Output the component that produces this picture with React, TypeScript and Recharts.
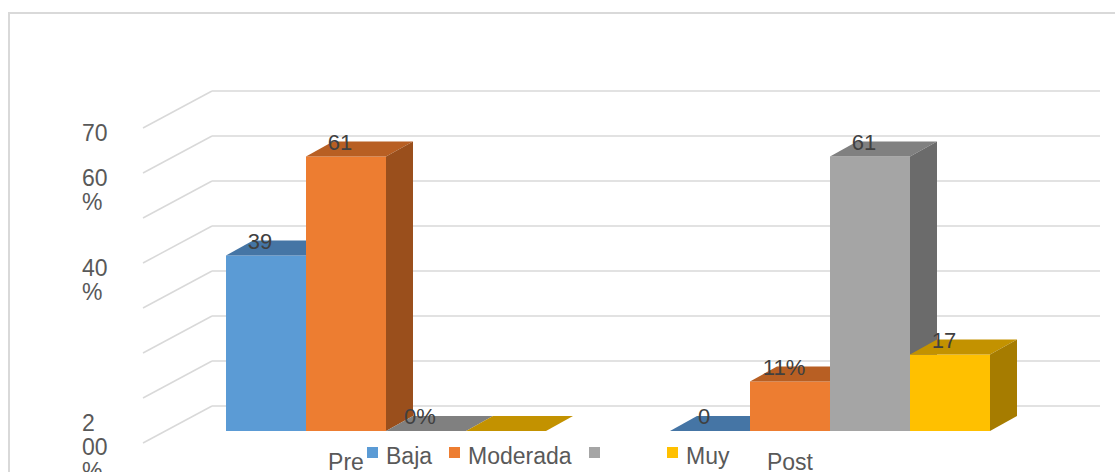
import { BarChart, Bar, XAxis, YAxis, CartesianGrid, Legend, LabelList } from 'recharts';

const periods = ['Pre', 'Post'];
const baja = [39, 0];
const moderada = [61, 11];
const alta = [0, 61];
const muyAlta = [0, 17];

// suffix shown after each data label; null = label hidden
const bajaLabels = ['', ''];
const moderadaLabels = ['', '%'];
const altaLabels = ['%', ''];
const muyAltaLabels = [null, ''];

const legendNames = ['Baja', 'Moderada', '', 'Muy'];

const yTicks = [0, 10, 20, 30, 40, 50, 60, 70];
const yTickText: Record<number, string[]> = {
  70: ['70'],
  60: ['60', '%'],
  40: ['40', '%'],
  0: ['2', '00', '%'],
};

const data = periods.map((period, i) => ({
  period,
  baja: baja[i],
  moderada: moderada[i],
  alta: alta[i],
  muyAlta: muyAlta[i],
}));

const SERIES = [
  { key: 'baja', name: legendNames[0], front: '#5b9bd5', top: '#4575a5', side: '#3f6b98', labels: bajaLabels },
  { key: 'moderada', name: legendNames[1], front: '#ed7d31', top: '#b85f23', side: '#9a4f1c', labels: moderadaLabels },
  { key: 'alta', name: legendNames[2], front: '#a5a5a5', top: '#808080', side: '#6b6b6b', labels: altaLabels },
  { key: 'muyAlta', name: legendNames[3], front: '#ffc000', top: '#c39200', side: '#a67c00', labels: muyAltaLabels },
];

const FONT = '"Liberation Sans", Arial, sans-serif';
const TEXT = '#595959';
const DEPTH_X = 27;
const DEPTH_Y = 15;

// 3D box: front face, top face, right side face
function Box3D(props: any) {
  const { x, y, width, height, front, top, side } = props;
  const h = Math.max(0, height || 0);
  const r = x + width;
  return (
    <g>
      <rect x={x} y={y} width={width} height={h} fill={front} />
      <polygon
        points={`${x},${y} ${x + DEPTH_X},${y - DEPTH_Y} ${r + DEPTH_X},${y - DEPTH_Y} ${r},${y}`}
        fill={top}
      />
      {h > 0 && (
        <polygon
          points={`${r},${y} ${r + DEPTH_X},${y - DEPTH_Y} ${r + DEPTH_X},${y + h - DEPTH_Y} ${r},${y + h}`}
          fill={side}
        />
      )}
    </g>
  );
}

// back wall line plus the slanted side-wall stroke for each y tick
function WallLine(props: any) {
  const { y1, key } = props;
  const backY = y1 - 25;
  return (
    <g key={key}>
      <line x1={143} y1={y1 + 12} x2={212} y2={backY} stroke="#d9d9d9" strokeWidth={1.5} />
      <line x1={212} y1={backY} x2={1100} y2={backY} stroke="#d9d9d9" strokeWidth={1.5} />
    </g>
  );
}

function YTick(props: any) {
  const { y, payload } = props;
  const lines = yTickText[payload.value];
  if (!lines) return <g />;
  // the three-line label at zero starts one line higher
  const start = y + 25 - (lines.length > 2 ? 25 : 0);
  return (
    <g>
      {lines.map((t, i) => (
        <text key={i} x={82} y={start + i * 24} fill={TEXT} fontSize={23} fontFamily={FONT}>
          {t}
        </text>
      ))}
    </g>
  );
}

function XTick(props: any) {
  const { x, y, payload } = props;
  return (
    <text x={x - 40} y={y + 39} textAnchor="middle" fill={TEXT} fontSize={23} fontFamily={FONT}>
      {payload.value}
    </text>
  );
}

const LEGEND_SLOTS = [82, 140, 78, 80];

function LegendRow() {
  let cx = 367;
  return (
    <svg width={1115} height={34} style={{ display: 'block', overflow: 'visible' }}>
      {SERIES.map((s, i) => {
        const x0 = cx;
        cx += LEGEND_SLOTS[i];
        return (
          <g key={s.key}>
            <rect x={x0} y={7} width={11} height={11} fill={s.front} />
            <text x={x0 + 19} y={23.5} fill={TEXT} fontSize={23} fontFamily={FONT}>
              {s.name}
            </text>
          </g>
        );
      })}
    </svg>
  );
}

export default function App() {
  return (
    <div
      style={{
        position: 'fixed',
        left: 0,
        top: 0,
        width: 1115,
        height: 472,
        overflow: 'hidden',
        background: '#fff',
      }}
    >
      <div
        style={{
          position: 'absolute',
          left: 8,
          top: 12,
          width: 1300,
          height: 700,
          border: '2px solid #d9d9d9',
        }}
      />
      <BarChart
        width={1115}
        height={472}
        data={data}
        margin={{ top: 116, right: 63, bottom: 0, left: 0 }}
        barCategoryGap={62}
        barGap={0}
      >
        <CartesianGrid vertical={false} horizontal={WallLine} />
        <XAxis
          dataKey="period"
          height={41}
          axisLine={false}
          tickLine={false}
          tickSize={0}
          tickMargin={0}
          tick={XTick}
        />
        <YAxis
          width={164}
          domain={[0, 70]}
          ticks={yTicks}
          interval={0}
          axisLine={false}
          tickLine={false}
          tickSize={0}
          tickMargin={0}
          tick={YTick}
        />
        <Legend
          verticalAlign="middle"
          align="center"
          layout="horizontal"
          wrapperStyle={{ left: 0, top: 440, width: 1115, height: 34 }}
          content={() => <LegendRow />}
        />
        {SERIES.map((s) => (
          <Bar
            key={s.key}
            dataKey={s.key}
            name={s.name}
            fill={s.front}
            isAnimationActive={false}
            shape={(p: any) => <Box3D {...p} front={s.front} top={s.top} side={s.side} />}
          >
            <LabelList
              dataKey={s.key}
              content={(p: any) => {
                const suffix = s.labels[p.index];
                if (suffix === null || suffix === undefined) return null;
                return (
                  <text
                    x={p.x + p.width / 2 - 6}
                    y={p.y - 7}
                    textAnchor="middle"
                    fill="#404040"
                    fontSize={22}
                    fontFamily={FONT}
                  >
                    {`${p.value}${suffix}`}
                  </text>
                );
              }}
            />
          </Bar>
        ))}
      </BarChart>
    </div>
  );
}
